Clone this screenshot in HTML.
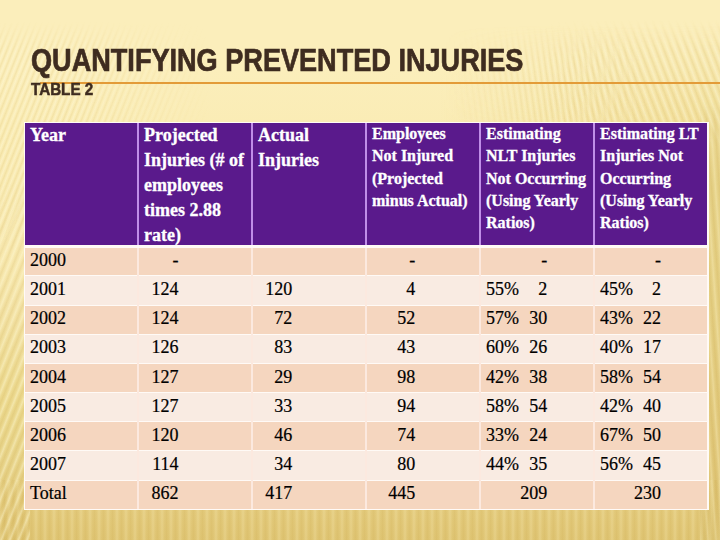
<!DOCTYPE html>
<html>
<head>
<meta charset="utf-8">
<style>
html,body{margin:0;padding:0;}
body{width:720px;height:540px;overflow:hidden;position:relative;
  background:linear-gradient(180deg,#fbeebb 0px,#fbeebb 70px,#faecb5 125px,#f8e9b0 250px,#f3e2a5 310px,#ecd98e 400px,#e8d48a 460px,#e3ca7c 510px,#dfc574 540px);
  font-family:"Liberation Serif","Times New Roman",serif;}
.bgr{position:absolute;left:440px;top:0;width:280px;height:125px;
  background:linear-gradient(90deg,rgba(232,205,120,0) 0px,rgba(232,205,120,.25) 160px,rgba(232,205,120,.45) 280px);
  -webkit-mask-image:linear-gradient(180deg,transparent 25px,#000 125px);mask-image:linear-gradient(180deg,transparent 25px,#000 125px);}
.rm{position:absolute;left:700px;top:0;width:20px;height:540px;
  background:linear-gradient(180deg,#fbeebb 0px,#f7e9b2 60px,#f2e2a2 105px,#ecd994 130px,#e6d288 185px,#e5d085 305px,#e1c87b 455px,#ddc474 540px);
  -webkit-mask-image:linear-gradient(180deg,transparent 40px,#000 110px);mask-image:linear-gradient(180deg,transparent 40px,#000 110px);}
.stL{position:absolute;left:0;top:0;width:720px;height:540px;
  background:repeating-linear-gradient(112deg,rgba(255,252,225,.32) 0px,rgba(255,252,225,0) 1.4px,rgba(205,170,70,.14) 2.8px,rgba(255,252,225,0) 4.2px,rgba(255,252,225,.32) 5.6px);
  -webkit-mask-image:linear-gradient(90deg,#000 70px,transparent 210px),linear-gradient(180deg,transparent 22px,#000 50px,#000 200px,transparent 260px);
  -webkit-mask-composite:source-in;mask-composite:intersect;}
.stLM{position:absolute;left:0;top:180px;width:30px;height:360px;
  background:repeating-linear-gradient(112deg,rgba(255,250,215,.40) 0px,rgba(255,250,215,0) 2px,rgba(190,150,50,.13) 4px,rgba(255,250,215,0) 6px,rgba(255,250,215,.40) 8px);
  -webkit-mask-image:linear-gradient(180deg,transparent 0px,#000 60px);mask-image:linear-gradient(180deg,transparent 0px,#000 60px);}
.stR{position:absolute;left:0;top:0;width:720px;height:540px;
  background:repeating-linear-gradient(69deg,rgba(255,252,225,.35) 0px,rgba(255,252,225,0) 1.85px,rgba(205,170,70,.17) 3.7px,rgba(255,252,225,0) 5.55px,rgba(255,252,225,.35) 7.4px);
  -webkit-mask-image:linear-gradient(90deg,transparent 540px,#000 640px),linear-gradient(180deg,transparent 20px,#000 50px,#000 115px,transparent 150px);
  -webkit-mask-composite:source-in;mask-composite:intersect;}
.stR2{position:absolute;left:0;top:0;width:720px;height:540px;
  background:repeating-linear-gradient(82deg,rgba(255,252,225,.30) 0px,rgba(255,252,225,0) 1.45px,rgba(205,170,70,.14) 2.9px,rgba(255,252,225,0) 4.35px,rgba(255,252,225,.30) 5.8px);
  -webkit-mask-image:linear-gradient(90deg,transparent 450px,#000 560px,#000 580px,transparent 650px),linear-gradient(180deg,transparent 26px,#000 60px,#000 115px,transparent 150px);
  -webkit-mask-composite:source-in;mask-composite:intersect;}
.stRM{position:absolute;left:700px;top:100px;width:20px;height:440px;
  background:repeating-linear-gradient(86deg,rgba(255,245,200,.30) 0px,rgba(255,245,200,0) 2px,rgba(190,150,50,.14) 4px,rgba(255,245,200,0) 6px,rgba(255,245,200,.30) 8px);
  -webkit-mask-image:linear-gradient(180deg,transparent 0px,#000 40px);mask-image:linear-gradient(180deg,transparent 0px,#000 40px);}
.stB{position:absolute;left:0;top:480px;width:720px;height:60px;
  background:repeating-linear-gradient(90deg,rgba(255,245,200,.2) 0px,rgba(255,245,200,0) 2.25px,rgba(190,150,50,.1) 4.5px,rgba(255,245,200,0) 6.75px,rgba(255,245,200,.2) 9px);}
.title{position:absolute;left:31.3px;top:42.6px;font-family:"Liberation Sans",Arial,sans-serif;font-weight:bold;
  font-size:31.2px;line-height:36px;color:#3e2c20;white-space:nowrap;transform-origin:0 0;transform:scaleX(0.869);-webkit-text-stroke:0.7px #3e2c20;}
.sub{position:absolute;left:31px;top:78.7px;font-family:"Liberation Sans",Arial,sans-serif;font-weight:bold;
  font-size:17.4px;line-height:20px;color:#3e2c20;white-space:nowrap;transform-origin:0 0;transform:scaleX(0.874);-webkit-text-stroke:0.55px #3e2c20;}
.oline{position:absolute;left:40px;top:82px;width:680px;height:2px;background:#e39b38;}
.b{position:absolute;}
.ht{position:absolute;color:#fff;font-weight:bold;white-space:nowrap;-webkit-text-stroke:0.3px #fff;}
.h18{font-size:18px;line-height:25px;}
.h16{font-size:16px;line-height:22.4px;}
.c{position:absolute;font-size:18px;line-height:20px;color:#000;white-space:nowrap;-webkit-text-stroke:0.2px #000;}
.r{text-align:right;width:80px;}
</style>
</head>
<body>
<div class="bgr"></div><div class="rm"></div><div class="stB"></div><div class="stL"></div><div class="stLM"></div><div class="stR"></div><div class="stR2"></div><div class="stRM"></div>
<div class="oline"></div>
<div class="title">QUANTIFYING PREVENTED INJURIES</div>
<div class="sub">TABLE 2</div>

<div class="b" style="left:24px;top:122px;width:685px;height:388px;background:#fffaf6"></div>
<div class="b" style="left:25px;top:123px;width:682px;height:122px;background:#5a1a8c"></div>
<div class="b" style="left:25px;top:248px;width:682px;height:27px;background:#f5d6bf"></div>
<div class="b" style="left:25px;top:276px;width:682px;height:29px;background:#f9ebe2"></div>
<div class="b" style="left:25px;top:306px;width:682px;height:28px;background:#f5d6bf"></div>
<div class="b" style="left:25px;top:335px;width:682px;height:28px;background:#f9ebe2"></div>
<div class="b" style="left:25px;top:364px;width:682px;height:28px;background:#f5d6bf"></div>
<div class="b" style="left:25px;top:393px;width:682px;height:28px;background:#f9ebe2"></div>
<div class="b" style="left:25px;top:422px;width:682px;height:28px;background:#f5d6bf"></div>
<div class="b" style="left:25px;top:451px;width:682px;height:29px;background:#f9ebe2"></div>
<div class="b" style="left:25px;top:481px;width:682px;height:28px;background:#f5d6bf"></div>
<div class="b" style="left:137px;top:123px;width:2px;height:122px;background:#c08ee8"></div>
<div class="b" style="left:137px;top:248px;width:2px;height:261px;background:#fce9df"></div>
<div class="b" style="left:251px;top:123px;width:2px;height:122px;background:#c08ee8"></div>
<div class="b" style="left:251px;top:248px;width:2px;height:261px;background:#fce9df"></div>
<div class="b" style="left:365px;top:123px;width:2px;height:122px;background:#c08ee8"></div>
<div class="b" style="left:365px;top:248px;width:2px;height:261px;background:#fce9df"></div>
<div class="b" style="left:479px;top:123px;width:2px;height:122px;background:#c08ee8"></div>
<div class="b" style="left:479px;top:248px;width:2px;height:261px;background:#fce9df"></div>
<div class="b" style="left:593px;top:123px;width:2px;height:122px;background:#c08ee8"></div>
<div class="b" style="left:593px;top:248px;width:2px;height:261px;background:#fce9df"></div>
<div class="ht h18" style="left:30px;top:122.53px">Year</div>
<div class="ht h18" style="left:144px;top:122.53px">Projected<br>Injuries (# of<br>employees<br>times 2.88<br>rate)</div>
<div class="ht h18" style="left:258px;top:122.53px">Actual<br>Injuries</div>
<div class="ht h16" style="left:372px;top:122.7px">Employees<br>Not Injured<br>(Projected<br>minus Actual)</div>
<div class="ht h16" style="left:486px;top:122.7px">Estimating<br>NLT Injuries<br>Not Occurring<br>(Using Yearly<br>Ratios)</div>
<div class="ht h16" style="left:600px;top:122.7px">Estimating LT<br>Injuries Not<br>Occurring<br>(Using Yearly<br>Ratios)</div>
<div class="c" style="left:30px;top:249.93px">2000</div>
<div class="c r" style="left:98.5px;top:249.93px">-</div>
<div class="c r" style="left:335.2px;top:249.93px">-</div>
<div class="c r" style="left:467.2px;top:249.93px">-</div>
<div class="c r" style="left:581.0px;top:249.93px">-</div>
<div class="c" style="left:30px;top:278.93px">2001</div>
<div class="c r" style="left:98.5px;top:278.93px">124</div>
<div class="c r" style="left:212.3px;top:278.93px">120</div>
<div class="c r" style="left:335.2px;top:278.93px">4</div>
<div class="c" style="left:486px;top:278.93px">55%</div>
<div class="c r" style="left:467.2px;top:278.93px">2</div>
<div class="c" style="left:600px;top:278.93px">45%</div>
<div class="c r" style="left:581.0px;top:278.93px">2</div>
<div class="c" style="left:30px;top:307.93px">2002</div>
<div class="c r" style="left:98.5px;top:307.93px">124</div>
<div class="c r" style="left:212.3px;top:307.93px">72</div>
<div class="c r" style="left:335.2px;top:307.93px">52</div>
<div class="c" style="left:486px;top:307.93px">57%</div>
<div class="c r" style="left:467.2px;top:307.93px">30</div>
<div class="c" style="left:600px;top:307.93px">43%</div>
<div class="c r" style="left:581.0px;top:307.93px">22</div>
<div class="c" style="left:30px;top:336.93px">2003</div>
<div class="c r" style="left:98.5px;top:336.93px">126</div>
<div class="c r" style="left:212.3px;top:336.93px">83</div>
<div class="c r" style="left:335.2px;top:336.93px">43</div>
<div class="c" style="left:486px;top:336.93px">60%</div>
<div class="c r" style="left:467.2px;top:336.93px">26</div>
<div class="c" style="left:600px;top:336.93px">40%</div>
<div class="c r" style="left:581.0px;top:336.93px">17</div>
<div class="c" style="left:30px;top:366.93px">2004</div>
<div class="c r" style="left:98.5px;top:366.93px">127</div>
<div class="c r" style="left:212.3px;top:366.93px">29</div>
<div class="c r" style="left:335.2px;top:366.93px">98</div>
<div class="c" style="left:486px;top:366.93px">42%</div>
<div class="c r" style="left:467.2px;top:366.93px">38</div>
<div class="c" style="left:600px;top:366.93px">58%</div>
<div class="c r" style="left:581.0px;top:366.93px">54</div>
<div class="c" style="left:30px;top:395.93px">2005</div>
<div class="c r" style="left:98.5px;top:395.93px">127</div>
<div class="c r" style="left:212.3px;top:395.93px">33</div>
<div class="c r" style="left:335.2px;top:395.93px">94</div>
<div class="c" style="left:486px;top:395.93px">58%</div>
<div class="c r" style="left:467.2px;top:395.93px">54</div>
<div class="c" style="left:600px;top:395.93px">42%</div>
<div class="c r" style="left:581.0px;top:395.93px">40</div>
<div class="c" style="left:30px;top:424.93px">2006</div>
<div class="c r" style="left:98.5px;top:424.93px">120</div>
<div class="c r" style="left:212.3px;top:424.93px">46</div>
<div class="c r" style="left:335.2px;top:424.93px">74</div>
<div class="c" style="left:486px;top:424.93px">33%</div>
<div class="c r" style="left:467.2px;top:424.93px">24</div>
<div class="c" style="left:600px;top:424.93px">67%</div>
<div class="c r" style="left:581.0px;top:424.93px">50</div>
<div class="c" style="left:30px;top:453.93px">2007</div>
<div class="c r" style="left:98.5px;top:453.93px">114</div>
<div class="c r" style="left:212.3px;top:453.93px">34</div>
<div class="c r" style="left:335.2px;top:453.93px">80</div>
<div class="c" style="left:486px;top:453.93px">44%</div>
<div class="c r" style="left:467.2px;top:453.93px">35</div>
<div class="c" style="left:600px;top:453.93px">56%</div>
<div class="c r" style="left:581.0px;top:453.93px">45</div>
<div class="c" style="left:30px;top:482.93px">Total</div>
<div class="c r" style="left:98.5px;top:482.93px">862</div>
<div class="c r" style="left:212.3px;top:482.93px">417</div>
<div class="c r" style="left:335.2px;top:482.93px">445</div>
<div class="c r" style="left:467.2px;top:482.93px">209</div>
<div class="c r" style="left:581.0px;top:482.93px">230</div>
</body>
</html>
